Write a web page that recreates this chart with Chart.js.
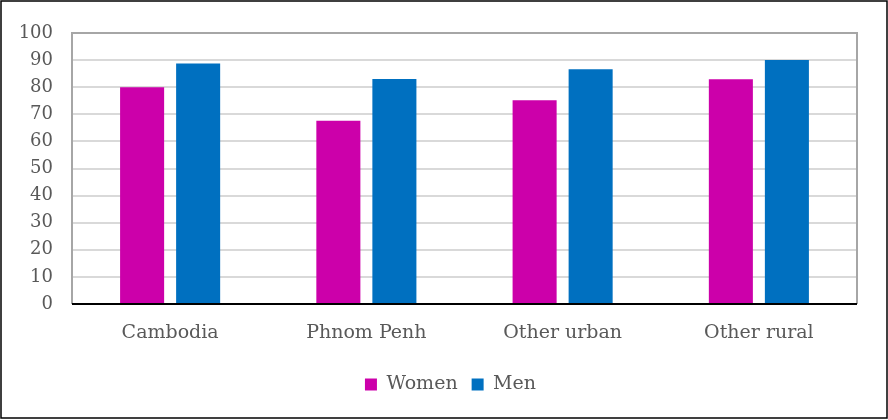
<!DOCTYPE html>
<html>
<head>
<meta charset="utf-8">
<script src="https://cdn.jsdelivr.net/npm/chart.js@4"></script>
<style>
  body { margin: 0; background: #fff; }
  #wrap { width: 888px; height: 420px; }
</style>
</head>
<body>
<div id="wrap"><canvas id="grafico" width="888" height="420"></canvas></div>
<script>
const regions = ["Cambodia", "Phnom Penh", "Other urban", "Other rural"];
const women = [80.0, 67.6, 75.2, 82.9];
const men = [88.7, 83.0, 86.6, 90.0];
const yTicks = [0, 10, 20, 30, 40, 50, 60, 70, 80, 90, 100];

const serif = "'DejaVu Serif', serif";
const testo = "#595959";

// gray frame around the plot area and black frame around the whole figure
const cornice = {
  id: "cornice",
  afterLayout(chart) {
    // legend is centred on the whole figure, not on the plot
    chart.legend.left += 22;
    chart.legend.right += 22;
  },
  beforeDatasetsDraw(chart) {
    const { ctx, chartArea: a } = chart;
    ctx.save();
    ctx.strokeStyle = "#A6A6A6";
    ctx.lineWidth = 2;
    ctx.beginPath();
    ctx.moveTo(a.left, a.bottom);
    ctx.lineTo(a.left, a.top);
    ctx.lineTo(a.right, a.top);
    ctx.lineTo(a.right, a.bottom);
    ctx.stroke();
    ctx.restore();
  },
  afterDraw(chart) {
    const { ctx, chartArea: a } = chart;
    ctx.save();
    ctx.strokeStyle = "#000";
    ctx.lineWidth = 2;
    ctx.beginPath();
    ctx.moveTo(a.left, a.bottom);
    ctx.lineTo(a.right, a.bottom);
    ctx.stroke();
    ctx.lineWidth = 1.5;
    ctx.strokeRect(1, 1, 886, 417);
    ctx.restore();
  }
};

const ctx = document.getElementById("grafico").getContext("2d");
new Chart(ctx, {
  type: "bar",
  data: {
    labels: regions,
    datasets: [{
      label: "Women",
      data: women,
      backgroundColor: "#CC00AA"
    }, {
      label: "Men",
      data: men,
      backgroundColor: "#0070C0"
    }]
  },
  options: {
    responsive: false,
    animation: false,
    categoryPercentage: 0.571,
    barPercentage: 0.786,
    layout: { padding: { left: 0, right: 31, top: 33, bottom: 16 } },
    plugins: {
      tooltip: { enabled: false },
      legend: {
        position: "bottom",
        labels: {
          boxWidth: 12,
          boxHeight: 12,
          padding: 14,
          color: testo,
          font: { family: serif, size: 19 }
        }
      }
    },
    scales: {
      x: {
        grid: { display: false },
        border: { display: false },
        ticks: { color: testo, padding: 10, font: { family: serif, size: 19 } },
        afterFit(scale) { scale.height = 57; }
      },
      y: {
        min: 0,
        max: 100,
        afterBuildTicks(scale) { scale.ticks = yTicks.map(v => ({ value: v })); },
        grid: { color: "#D9D9D9", lineWidth: 2, drawTicks: false },
        border: { display: false },
        ticks: { color: testo, padding: 19, font: { family: serif, size: 18 } },
        afterFit(scale) { scale.width = 72; }
      }
    }
  },
  plugins: [cornice]
});
</script>
</body>
</html>
